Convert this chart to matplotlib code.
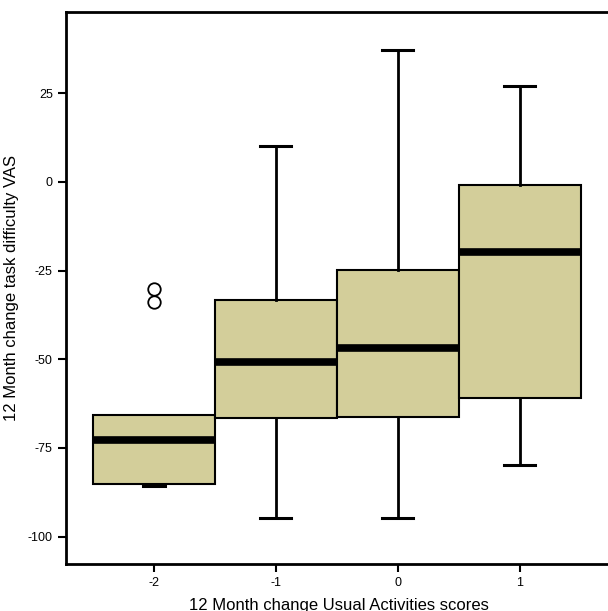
"""SPSS-style boxplot: 12 month change in task difficulty VAS by change in Usual Activities."""

import matplotlib

matplotlib.use("Agg")
import matplotlib.pyplot as plt  # noqa: E402

groups = [-2, -1, 0, 1]
q1 = [-85.1, -66.5, -66.2, -60.9]
medians = [-72.7, -50.7, -46.8, -19.7]
q3 = [-65.7, -33.3, -24.8, -0.9]
whisker_low = [-85.7, -94.7, -94.7, -79.8]
whisker_high = [-65.7, 10.1, 37.2, 27.1]
outliers = [[-30.2, -33.8], [], [], []]

BOX_COLOR = "#d3ce9a"

plt.rcParams["font.family"] = ["Liberation Sans", "DejaVu Sans"]
plt.rcParams["axes.unicode_minus"] = False

fig = plt.figure(figsize=(6.08, 6.11), dpi=100)
ax = fig.add_axes([66 / 608, 47 / 611, 1.0 - 66 / 608 + 0.005, 552 / 611])

stats = [
    dict(med=m, q1=a, q3=b, whislo=lo, whishi=hi, fliers=f)
    for m, a, b, lo, hi, f in zip(medians, q1, q3, whisker_low, whisker_high, outliers)
]
parts = ax.bxp(
    stats, positions=groups, widths=1.0, patch_artist=True, showcaps=True,
    boxprops=dict(facecolor=BOX_COLOR, edgecolor="black", linewidth=1.5),
    medianprops=dict(color="black", linewidth=5.5, solid_capstyle="butt"),
    whiskerprops=dict(color="black", linewidth=2),
    capprops=dict(color="black", linewidth=2.2),
    capwidths=[0.18, 0.25, 0.25, 0.25],
    flierprops=dict(marker="o", markersize=9, markerfacecolor="none",
                    markeredgecolor="black", markeredgewidth=1.3),
)
# no whisker drawn when it coincides with the box edge (SPSS style)
for i, (hi, top) in enumerate(zip(whisker_high, q3)):
    if hi <= top:
        parts["caps"][2 * i + 1].set_visible(False)
        parts["whiskers"][2 * i + 1].set_visible(False)

ax.set_xlim(-2.72, 1.75)
ax.set_ylim(-107.7, 47.9)
ax.set_xticks(groups)
ax.set_xticklabels([str(g) for g in groups])
ax.set_yticks([25, 0, -25, -50, -75, -100])
ax.tick_params(labelsize=9, length=6, width=1.5, direction="out")
ax.spines["right"].set_visible(False)
for s in ("left", "top", "bottom"):
    ax.spines[s].set_linewidth(2)

ax.set_xlabel("12 Month change Usual Activities scores", fontsize=12, labelpad=6)
ax.set_ylabel("12 Month change task difficulty VAS", fontsize=12, labelpad=6)

fig.savefig("out.png", dpi=100)
